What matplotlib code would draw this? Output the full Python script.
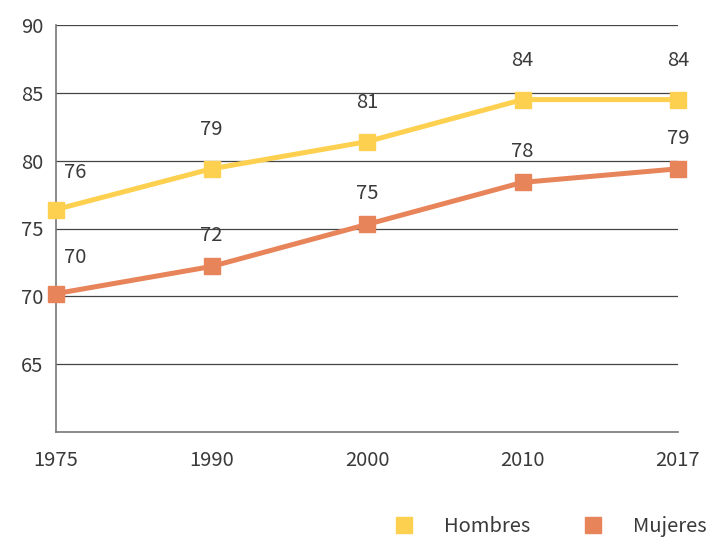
import matplotlib
matplotlib.use("Agg")
import matplotlib.pyplot as plt
from matplotlib.lines import Line2D

plt.rcParams['font.family'] = ['Noto Sans CJK JP', 'DejaVu Sans']

years = ['1975', '1990', '2000', '2010', '2017']
hombres = [76.4, 79.4, 81.4, 84.5, 84.5]
mujeres = [70.2, 72.2, 75.3, 78.4, 79.4]
yticks = [65, 70, 75, 80, 85, 90]

c_h = '#FDD04F'
c_m = '#E8845A'
txt = '#3a3a3a'
fs = 14.5

fig = plt.figure(figsize=(7.1, 5.4), dpi=100)
ax = fig.add_axes([56/710, 1 - 432/540, (678 - 56)/710, (432 - 25)/540])

x = list(range(len(years)))
ax.plot(x, hombres, color=c_h, lw=3.6, marker='s', ms=12, zorder=3, clip_on=False)
ax.plot(x, mujeres, color=c_m, lw=3.6, marker='s', ms=12, zorder=3, clip_on=False)

# data labels (first point sits to the right of the marker)
for i, v in enumerate(hombres):
    dx = 14 if i == 0 else 0
    dy = 27 if i == 0 else 28
    ax.annotate(f'{int(v)}', (i, v), xytext=(dx, dy),
                textcoords='offset points', ha='center', va='center',
                fontsize=fs, color=txt)
for i, v in enumerate(mujeres):
    dx = 14 if i == 0 else 0
    dy = 26 if i == 0 else 22
    ax.annotate(f'{int(v)}', (i, v), xytext=(dx, dy),
                textcoords='offset points', ha='center', va='center',
                fontsize=fs, color=txt)

ax.set_xlim(0, len(years) - 1)
ax.set_ylim(60, 90)
ax.set_yticks(yticks)
ax.set_xticks(x)
ax.set_xticklabels(years)
ax.grid(axis='y', color='#444444', lw=0.9)
ax.set_axisbelow(True)
for s in ['top', 'right']:
    ax.spines[s].set_visible(False)
for s in ['left', 'bottom']:
    ax.spines[s].set_color('#777777')
    ax.spines[s].set_linewidth(1.2)
ax.tick_params(axis='both', length=0, labelsize=fs, colors=txt)
ax.tick_params(axis='x', pad=13)
ax.tick_params(axis='y', pad=9)

handles = [Line2D([], [], ls='none', marker='s', ms=12, color=c_h),
           Line2D([], [], ls='none', marker='s', ms=12, color=c_m)]
fig.legend(handles, ['Hombres', 'Mujeres'], loc='lower right', ncol=2,
           bbox_to_anchor=(1.021, -0.028), frameon=False, fontsize=fs,
           labelcolor=txt, handletextpad=1.0, columnspacing=2.1)

fig.savefig('out.png', dpi=100)
